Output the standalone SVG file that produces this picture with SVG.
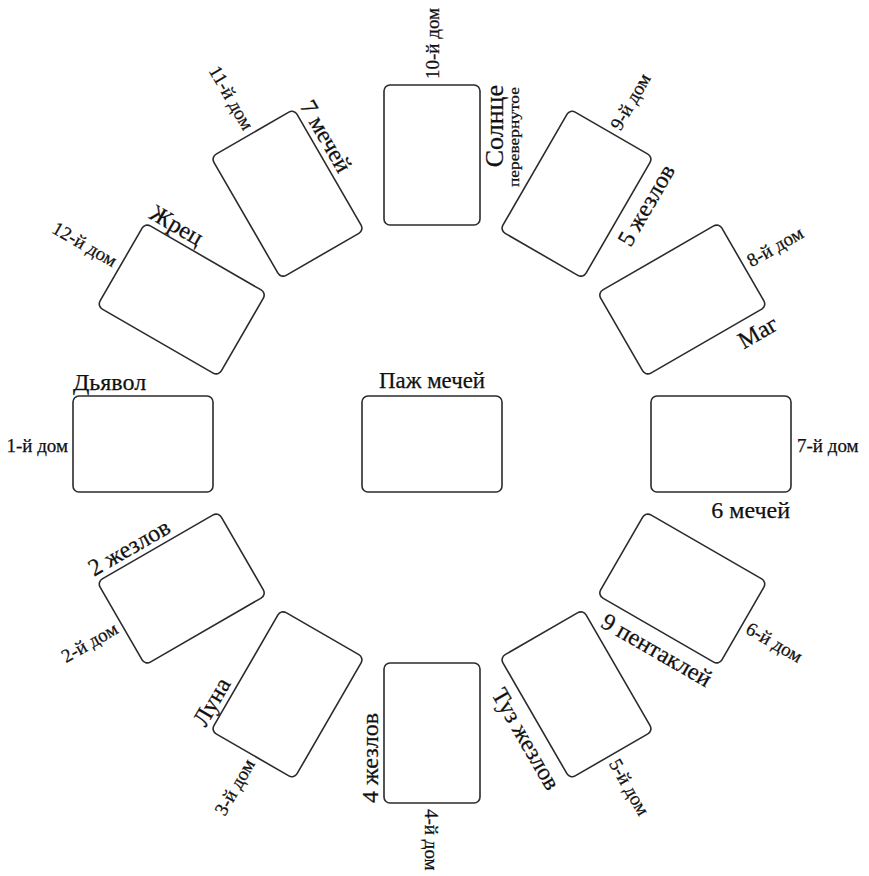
<svg xmlns="http://www.w3.org/2000/svg" width="869" height="876" viewBox="0 0 869 876">
<style>
.card{fill:#fff;stroke:#2b2b2b;stroke-width:1.6}
text{font-family:'Liberation Serif','DejaVu Serif','Times New Roman',serif;fill:#111;stroke:#111;stroke-width:0.25}
.n{font-size:24px}
.h{font-size:19px}
.s{font-size:14px}
</style>
<defs>
<rect id="c" class="card" x="-70" y="-48" width="140" height="96" rx="6" ry="6"/>
</defs>
<rect width="869" height="876" fill="#fff"/>
<g font-family="Liberation Serif, DejaVu Serif, serif">

<g id="center" transform="translate(432,444)">
<use href="#c"/>
<text class="n" x="0" y="-56" text-anchor="middle" textLength="106" lengthAdjust="spacingAndGlyphs">Паж мечей</text>
</g>

<g id="house1" transform="translate(143,444) rotate(180)">
<use href="#c"/>
<g transform="rotate(180)">
<text class="h" x="-75" y="8" text-anchor="end">1-й дом</text>
<text class="n" x="-70" y="-54">Дьявол</text>
</g>
</g>

<g id="house2" transform="translate(181.72,588.5) rotate(150)">
<use href="#c"/>
<g transform="rotate(180)">
<text class="h" x="-76" y="7" text-anchor="end">2-й дом</text>
<text class="n" x="-70" y="-54">2 жезлов</text>
</g>
</g>

<g id="house3" transform="translate(287.5,694.28) rotate(120)">
<use href="#c"/>
<g transform="rotate(180)">
<text class="h" x="-76" y="7" text-anchor="end">3-й дом</text>
<text class="n" x="-70" y="-54">Луна</text>
</g>
</g>

<g id="house4" transform="translate(432,733) rotate(90)">
<use href="#c"/>
<text class="h" x="76" y="7">4-й дом</text>
<g transform="rotate(180)">
<text class="n" x="-70" y="-54">4 жезлов</text>
</g>
</g>

<g id="house5" transform="translate(576.5,694.28) rotate(60)">
<use href="#c"/>
<text class="h" x="76" y="7">5-й дом</text>
<text class="n" x="70" y="74" text-anchor="end">Туз жезлов</text>
</g>

<g id="house6" transform="translate(682.28,588.5) rotate(30)">
<use href="#c"/>
<text class="h" x="76" y="7">6-й дом</text>
<text class="n" x="70" y="74" text-anchor="end">9 пентаклей</text>
</g>

<g id="house7" transform="translate(721,444)">
<use href="#c"/>
<text class="h" x="76" y="8">7-й дом</text>
<text class="n" x="69" y="74" text-anchor="end">6 мечей</text>
</g>

<g id="house8" transform="translate(682.28,299.5) rotate(-30)">
<use href="#c"/>
<text class="h" x="76" y="7">8-й дом</text>
<text class="n" x="70" y="74" text-anchor="end">Маг</text>
</g>

<g id="house9" transform="translate(576.5,193.72) rotate(-60)">
<use href="#c"/>
<text class="h" x="76" y="7">9-й дом</text>
<text class="n" x="70" y="74" text-anchor="end">5 жезлов</text>
</g>

<g id="house10" transform="translate(432,155) rotate(-90)">
<use href="#c"/>
<text class="h" x="76" y="7">10-й дом</text>
<text class="n" x="70" y="71" text-anchor="end" style="font-size:26px">Солнце</text>
<text class="s" x="68" y="87" text-anchor="end" textLength="100" lengthAdjust="spacingAndGlyphs">перевернутое</text>
</g>

<g id="house11" transform="translate(287.5,193.72) rotate(-120)">
<use href="#c"/>
<g transform="rotate(180)">
<text class="h" x="-76" y="7" text-anchor="end">11-й дом</text>
<text class="n" x="-70" y="-54">7 мечей</text>
</g>
</g>

<g id="house12" transform="translate(181.72,299.5) rotate(-150)">
<use href="#c"/>
<g transform="rotate(180)">
<text class="h" x="-76" y="7" text-anchor="end">12-й дом</text>
<text class="n" x="-70" y="-54">Жрец</text>
</g>
</g>
</g>
</svg>
